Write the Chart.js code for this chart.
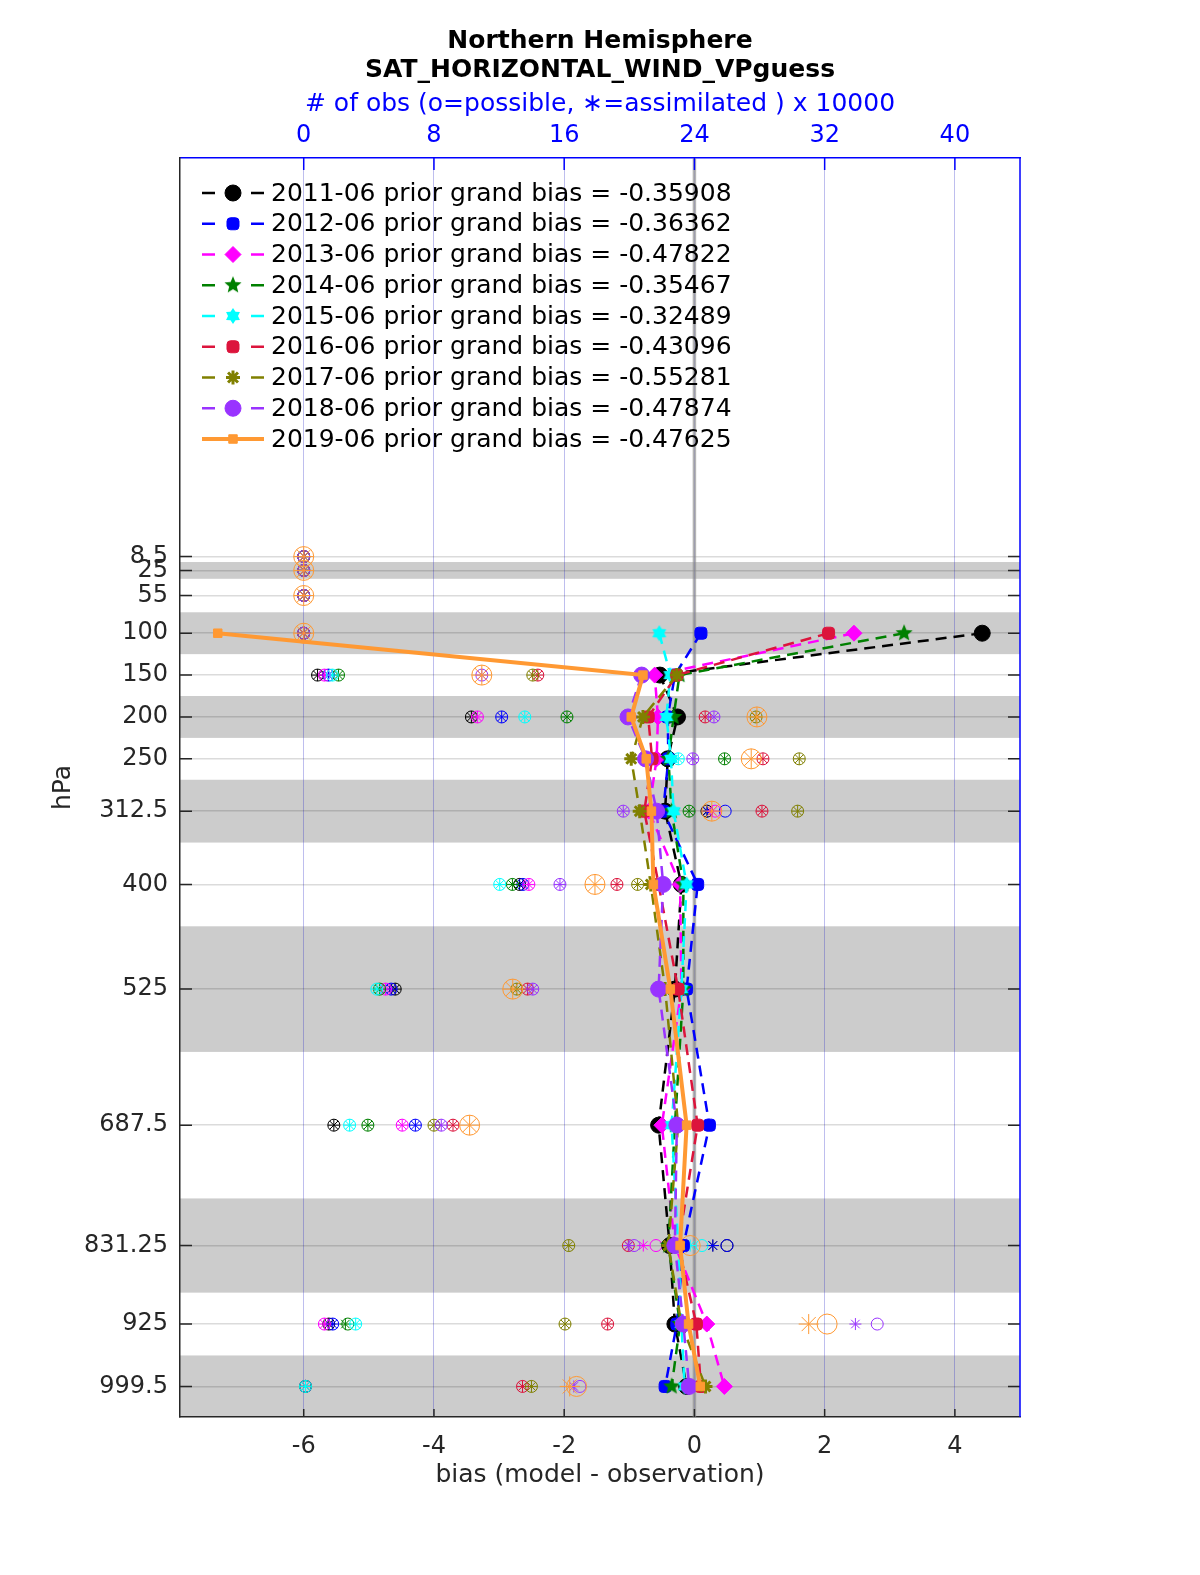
<!DOCTYPE html>
<html lang="en">
<head>
<meta charset="UTF-8" />
<title>SAT_HORIZONTAL_WIND_VPguess</title>
<style>
  html, body { margin: 0; padding: 0; overflow: hidden; background: #ffffff; }
  canvas { display: block; }
</style>
<script src="https://cdn.jsdelivr.net/npm/chart.js"></script>
</head>
<body>
<canvas id="biasChart" width="1200" height="1575"></canvas>
<script>
// pressure levels (hPa) and axis ticks
const levels = [8.5, 25, 55, 100, 150, 200, 250, 312.5, 400, 525, 687.5, 831.25, 925, 999.5];
const biasTicks = [-6, -4, -2, 0, 2, 4];
const obsTicks = [0, 8, 16, 24, 32, 40];
const years = ["2011-06", "2012-06", "2013-06", "2014-06", "2015-06", "2016-06", "2017-06", "2018-06", "2019-06"];
const grandBias = ["-0.35908", "-0.36362", "-0.47822", "-0.35467", "-0.32489", "-0.43096", "-0.55281", "-0.47874", "-0.47625"];
// shaded layers (hPa)
const bands = [[15, 35], [75, 125], [175, 225], [275, 350], [450, 600], [775, 887.5], [962.5, 1036]];

// bias (model - observation) per level
const bias2011 = [null, null, null, 4.42, -0.53, -0.26, -0.41, -0.45, -0.20, -0.30, -0.55, -0.38, -0.30, -0.12];
const bias2012 = [null, null, null, 0.10, -0.30, -0.41, -0.40, -0.48, 0.05, -0.12, 0.23, -0.17, -0.27, -0.45];
const bias2013 = [null, null, null, 2.45, -0.61, -0.56, -0.58, -0.70, -0.22, -0.20, -0.50, -0.30, 0.19, 0.46];
const bias2014 = [null, null, null, 3.22, -0.23, -0.32, -0.40, -0.35, -0.17, -0.17, -0.30, -0.40, -0.22, -0.35];
const bias2015 = [null, null, null, -0.54, -0.37, -0.43, -0.36, -0.32, -0.12, -0.20, -0.35, -0.25, -0.20, -0.15];
const bias2016 = [null, null, null, 2.06, -0.27, -0.71, -0.65, -0.77, -0.55, -0.25, 0.05, -0.25, 0.03, 0.10];
const bias2017 = [null, null, null, null, -0.27, -0.79, -0.97, -0.84, -0.67, -0.45, -0.25, -0.40, -0.20, 0.17];
const bias2018 = [null, null, null, null, -0.81, -1.02, -0.75, -0.58, -0.48, -0.55, -0.27, -0.30, -0.17, -0.08];
const bias2019 = [null, null, null, -7.32, -0.79, -0.97, -0.74, -0.66, -0.63, -0.37, -0.12, -0.22, -0.09, 0.09];

// # of obs x 10000 (possible / assimilated)
const poss2011 = [0, 0, 0, 0, 0.85, 10.30, 21.07, 24.77, 13.26, 5.62, 1.85, 26.00, 1.54, 0.11];
const assim2011 = [0, 0, 0, 0, 0.85, 10.30, 21.07, 24.77, 13.26, 5.62, 1.85, 25.13, 1.54, 0.11];
const poss2012 = [0, 0, 0, 0, 1.52, 12.16, 22.40, 25.89, 13.46, 5.37, 6.86, 26.00, 1.78, 0.11];
const assim2012 = [0, 0, 0, 0, 1.52, 12.16, 22.40, 24.80, 13.46, 5.37, 6.86, 25.13, 1.78, 0.11];
const poss2013 = [0, 0, 0, 0, 1.27, 10.67, 21.69, 25.27, 13.83, 5.03, 6.05, 21.64, 1.27, 0.11];
const assim2013 = [0, 0, 0, 0, 1.27, 10.67, 21.69, 25.10, 13.83, 5.03, 6.05, 20.86, 1.27, 0.11];
const poss2014 = [0, 0, 0, 0, 2.14, 16.17, 25.85, 23.67, 12.82, 4.66, 3.94, 22.91, 2.71, 0.11];
const assim2014 = [0, 0, 0, 0, 2.14, 16.17, 25.85, 23.67, 12.82, 4.66, 3.94, 22.31, 2.56, 0.11];
const poss2015 = [0, 0, 0, 0, 1.76, 13.58, 23.01, 21.48, 12.04, 4.49, 2.82, 24.46, 3.19, 0.11];
const assim2015 = [0, 0, 0, 0, 1.76, 13.58, 23.01, 21.48, 12.04, 4.49, 2.82, 23.74, 3.19, 0.11];
const poss2016 = [0, 0, 0, 0, 14.38, 24.66, 28.21, 28.15, 19.24, 13.75, 9.17, 19.94, 18.67, 13.44];
const assim2016 = [0, 0, 0, 0, 14.38, 24.66, 28.21, 28.15, 19.24, 13.75, 9.17, 19.94, 18.67, 13.44];
const poss2017 = [0, 0, 0, 0, 14.07, 27.79, 30.44, 30.34, 20.51, 13.09, 8.00, 16.28, 16.05, 13.99];
const assim2017 = [0, 0, 0, 0, 14.07, 27.79, 30.44, 30.34, 20.51, 13.09, 8.00, 16.28, 16.05, 13.99];
const poss2018 = [0, 0, 0, 0, 10.94, 25.20, 23.90, 19.63, 15.74, 14.07, 8.45, 20.29, 35.23, 16.97];
const assim2018 = [0, 0, 0, 0, 10.94, 25.20, 23.90, 19.63, 15.74, 14.07, 8.45, 19.98, 33.89, 16.59];
const poss2019 = [0, 0, 0, 0, 10.94, 27.84, 27.49, 25.07, 17.89, 12.84, 10.19, 23.74, 32.15, 16.76];
const assim2019 = [0, 0, 0, 0, 10.94, 27.84, 27.49, 25.07, 17.89, 12.84, 10.19, 23.11, 31.02, 16.34];

const biasSets = [bias2011, bias2012, bias2013, bias2014, bias2015, bias2016, bias2017, bias2018, bias2019];
const possSets = [poss2011, poss2012, poss2013, poss2014, poss2015, poss2016, poss2017, poss2018, poss2019];
const assimSets = [assim2011, assim2012, assim2013, assim2014, assim2015, assim2016, assim2017, assim2018, assim2019];

const colors = ["#000000", "#0000ff", "#ff00ff", "#008000", "#00ffff", "#dc143c", "#808000", "#9933ff", "#ff9933"];

function makeStar(color, n, outer, inner) {
  const c = document.createElement("canvas");
  c.width = c.height = outer * 2 + 2;
  const g = c.getContext("2d");
  g.fillStyle = color;
  g.beginPath();
  for (let i = 0; i < n * 2; i++) {
    const r = i % 2 ? inner : outer;
    const a = -Math.PI / 2 + (i * Math.PI) / n;
    g.lineTo(outer + 1 + r * Math.cos(a), outer + 1 + r * Math.sin(a));
  }
  g.closePath();
  g.fill();
  return c;
}

const markers = [
  { style: "circle", r: 8 },
  { style: "rectRounded", r: 7 },
  { style: "rectRot", r: 8 },
  { style: makeStar(colors[3], 5, 9, 4), r: 8 },
  { style: makeStar(colors[4], 6, 8, 5), r: 8 },
  { style: "rectRounded", r: 7 },
  { style: "star", r: 7 },
  { style: "circle", r: 8 },
  { style: "rect", r: 6 },
];

const datasets = [];
years.forEach((yr, k) => {
  const last = k === years.length - 1;
  datasets.push({
    label: yr,
    xAxisID: "x",
    yAxisID: "y",
    data: levels.map((p, i) => ({ x: biasSets[k][i], y: p })),
    borderColor: colors[k],
    backgroundColor: colors[k],
    borderWidth: last ? 4 : 2.5,
    borderDash: last ? [] : [11, 7],
    pointStyle: markers[k].style,
    pointRadius: markers[k].r,
    pointBorderWidth: k === 6 ? 3 : 1,
    pointBackgroundColor: colors[k],
    pointBorderColor: colors[k],
    fill: false,
    tension: 0,
    order: years.length - 1 - k,
  });
  const big = last ? 10 : 6;
  datasets.push({
    label: yr + " possible",
    xAxisID: "x2",
    yAxisID: "y",
    showLine: false,
    data: levels.map((p, i) => ({ x: possSets[k][i], y: p })),
    pointStyle: "circle",
    pointRadius: big,
    pointBorderWidth: 1,
    pointBorderColor: colors[k],
    pointBackgroundColor: "rgba(0,0,0,0)",
    order: 40 - k * 2,
  });
  datasets.push({
    label: yr + " assimilated",
    xAxisID: "x2",
    yAxisID: "y",
    showLine: false,
    data: levels.map((p, i) => ({ x: assimSets[k][i], y: p })),
    pointStyle: "star",
    pointRadius: big,
    pointBorderWidth: 1,
    pointBorderColor: colors[k],
    pointBackgroundColor: colors[k],
    order: 39 - k * 2,
  });
});

const FONT = "'DejaVu Sans', sans-serif";

function drawMarker(ctx, k, x, y) {
  ctx.fillStyle = colors[k];
  ctx.strokeStyle = colors[k];
  ctx.lineWidth = k === 6 ? 3 : 1;
  ctx.setLineDash([]);
  const opts = { pointStyle: markers[k].style, radius: markers[k].r, borderWidth: ctx.lineWidth, rotation: 0 };
  if (Chart.helpers && Chart.helpers.drawPoint) {
    Chart.helpers.drawPoint(ctx, opts, x, y);
  } else {
    ctx.beginPath();
    ctx.arc(x, y, markers[k].r, 0, Math.PI * 2);
    ctx.fill();
  }
}

const decor = {
  id: "decor",
  beforeDraw(chart) {
    const { ctx, chartArea: a, scales } = chart;
    ctx.save();
    ctx.fillStyle = "#ffffff";
    ctx.fillRect(0, 0, chart.width, chart.height);
    ctx.fillStyle = "#cccccc";
    bands.forEach(([p0, p1]) => {
      const y0 = Math.max(a.top, scales.y.getPixelForValue(p0));
      const y1 = Math.min(a.bottom, scales.y.getPixelForValue(p1));
      ctx.fillRect(a.left, y0, a.right - a.left, y1 - y0);
    });
    ctx.restore();
  },
  beforeDatasetsDraw(chart) {
    const { ctx, chartArea: a, scales } = chart;
    ctx.save();
    // zero bias line
    const x0 = scales.x.getPixelForValue(0);
    ctx.strokeStyle = "rgba(140,140,140,0.65)";
    ctx.lineWidth = 3.5;
    ctx.beginPath();
    ctx.moveTo(x0, a.top);
    ctx.lineTo(x0, a.bottom);
    ctx.stroke();
    // inward ticks
    ctx.lineWidth = 1.5;
    ctx.strokeStyle = "#262626";
    ctx.beginPath();
    levels.forEach((p) => {
      const py = scales.y.getPixelForValue(p);
      ctx.moveTo(a.left, py);
      ctx.lineTo(a.left + 12, py);
      ctx.moveTo(a.right - 12, py);
      ctx.lineTo(a.right, py);
    });
    biasTicks.forEach((v) => {
      const px = scales.x.getPixelForValue(v);
      ctx.moveTo(px, a.bottom);
      ctx.lineTo(px, a.bottom - 8);
    });
    ctx.stroke();
    ctx.strokeStyle = "#0000ff";
    ctx.beginPath();
    obsTicks.forEach((v) => {
      const px = scales.x2.getPixelForValue(v);
      ctx.moveTo(px, a.top);
      ctx.lineTo(px, a.top + 12);
    });
    // right box edge
    ctx.moveTo(a.right, a.top);
    ctx.lineTo(a.right, a.bottom);
    ctx.stroke();
    ctx.restore();
  },
  afterDatasetsDraw(chart) {
    const { ctx } = chart;
    ctx.save();
    // legend
    years.forEach((yr, k) => {
      const y = 193 + k * 30.75;
      ctx.strokeStyle = colors[k];
      ctx.setLineDash([]);
      ctx.beginPath();
      if (k === years.length - 1) {
        ctx.lineWidth = 4;
        ctx.moveTo(202, y);
        ctx.lineTo(264, y);
      } else {
        ctx.lineWidth = 2.5;
        ctx.moveTo(202, y);
        ctx.lineTo(215, y);
        ctx.moveTo(251, y);
        ctx.lineTo(264, y);
      }
      ctx.stroke();
      drawMarker(ctx, k, 233, y);
      ctx.fillStyle = "#000000";
      ctx.font = "25px " + FONT;
      ctx.textAlign = "left";
      ctx.textBaseline = "middle";
      ctx.fillText(yr + " prior grand bias = " + grandBias[k], 271, y + 1);
    });
    ctx.restore();
  },
  afterDraw(chart) {
    const { ctx, chartArea: a } = chart;
    const cx = (a.left + a.right) / 2;
    ctx.save();
    ctx.textAlign = "center";
    ctx.textBaseline = "middle";
    ctx.fillStyle = "#000000";
    ctx.font = "bold 25px " + FONT;
    ctx.fillText("Northern Hemisphere", cx, 41);
    ctx.fillText("SAT_HORIZONTAL_WIND_VPguess", cx, 70);
    ctx.fillStyle = "#0000ff";
    ctx.font = "25px " + FONT;
    ctx.fillText("# of obs (o=possible, \u2217=assimilated ) x 10000", cx, 104);
    ctx.fillStyle = "#262626";
    ctx.fillText("bias (model - observation)", cx, 1475);
    ctx.translate(63, (a.top + a.bottom) / 2);
    ctx.rotate(-Math.PI / 2);
    ctx.fillText("hPa", 0, 0);
    ctx.restore();
  },
};

new Chart(document.getElementById("biasChart"), {
  type: "line",
  data: { datasets },
  options: {
    responsive: false,
    animation: false,
    devicePixelRatio: 1,
    events: [],
    layout: { padding: { left: 0, right: 180, top: 0, bottom: 0 } },
    plugins: { legend: { display: false }, tooltip: { enabled: false }, title: { display: false } },
    scales: {
      x: {
        type: "linear",
        position: "bottom",
        min: -7.9,
        max: 5.0,
        afterBuildTicks: (s) => { s.ticks = biasTicks.map((v) => ({ value: v })); },
        afterFit: (s) => { s.height = 158; },
        grid: { display: false, drawTicks: false },
        border: { display: true, color: "#262626", width: 1.5 },
        ticks: { color: "#262626", font: { family: FONT, size: 24 }, padding: 15 },
      },
      x2: {
        type: "linear",
        position: "top",
        min: -7.6,
        max: 44.0,
        afterBuildTicks: (s) => { s.ticks = obsTicks.map((v) => ({ value: v })); },
        afterFit: (s) => { s.height = 158; },
        grid: { color: "rgba(40,40,200,0.3)", lineWidth: 1, drawTicks: false },
        border: { display: true, color: "#0000ff", width: 1.5 },
        ticks: { color: "#0000ff", font: { family: FONT, size: 24 }, padding: 8 },
      },
      y: {
        type: "linear",
        reverse: true,
        min: -467.5,
        max: 1036,
        afterBuildTicks: (s) => { s.ticks = levels.map((v) => ({ value: v })); },
        afterFit: (s) => { s.width = 180; },
        grid: { color: "rgba(0,0,0,0.14)", lineWidth: 1.5, drawTicks: false },
        border: { display: true, color: "#262626", width: 1.5 },
        ticks: { color: "#262626", font: { family: FONT, size: 24 }, padding: 12, callback: (v) => String(v) },
      },
    },
  },
  plugins: [decor],
});
</script>
</body>
</html>
